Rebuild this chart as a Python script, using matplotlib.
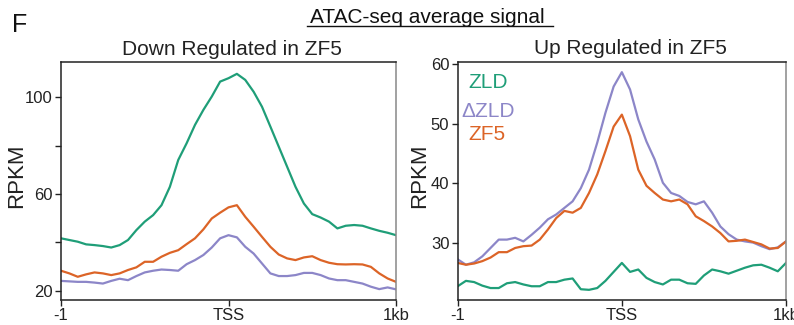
import numpy as np
import matplotlib
matplotlib.use("Agg")
import matplotlib.pyplot as plt
from matplotlib.lines import Line2D

plt.rcParams["font.family"] = ["Liberation Sans", "DejaVu Sans"]

# ========= 数据 =========
# 位置：-1kb .. TSS .. +1kb，步长 50bp
pos = np.round(np.arange(-1.0, 1.0001, 0.05), 2)

# Down Regulated in ZF5
down_zld = [41.7, 41.0, 40.3, 39.2, 38.9, 38.5, 37.9, 38.9, 41.0, 45.1,
            48.6, 51.3, 55.4, 63.0, 74.1, 81.0, 88.6, 94.8, 100.3, 106.5,
            107.9, 109.7, 107.2, 102.3, 96.1, 87.9, 79.6, 71.3, 63.0, 56.1,
            51.7, 50.3, 48.6, 45.8, 46.9, 47.2, 46.9, 45.8, 44.8, 44.0, 43.0]
down_dzld = [24.1, 23.9, 23.7, 23.7, 23.4, 23.0, 24.1, 25.0, 24.4, 26.1,
             27.6, 28.3, 28.8, 28.6, 28.3, 31.0, 32.7, 34.8, 37.9, 41.7,
             43.0, 42.1, 38.2, 35.4, 31.3, 27.2, 26.1, 26.1, 26.5, 27.4,
             27.4, 26.5, 25.1, 24.4, 24.4, 23.7, 23.0, 21.7, 20.7, 21.4, 20.6]
down_zf5 = [28.3, 27.2, 25.8, 26.8, 27.6, 27.2, 26.5, 27.2, 28.6, 29.7,
            32.0, 32.0, 34.1, 35.7, 36.8, 39.3, 41.7, 45.4, 49.9, 52.3,
            54.5, 55.4, 50.6, 46.5, 42.3, 38.2, 35.0, 33.4, 32.7, 33.8,
            34.3, 32.7, 31.6, 31.0, 30.9, 31.0, 30.9, 29.9, 27.2, 25.1, 23.7]

# Up Regulated in ZF5
up_zld = [22.8, 23.7, 23.5, 22.9, 22.5, 22.5, 23.3, 23.5, 23.1, 22.8,
          22.8, 23.5, 23.5, 23.9, 24.1, 22.3, 22.2, 22.5, 23.7, 25.2,
          26.7, 25.2, 25.6, 24.2, 23.5, 23.1, 23.9, 23.9, 23.3, 23.2,
          24.6, 25.6, 25.3, 24.9, 25.4, 25.9, 26.3, 26.4, 25.9, 25.3, 26.7]
up_dzld = [27.3, 26.4, 26.8, 27.8, 29.2, 30.6, 30.6, 30.9, 30.3, 31.4,
           32.6, 34.0, 34.8, 35.9, 37.0, 39.2, 42.3, 46.8, 51.8, 56.2,
           58.6, 55.7, 50.7, 47.0, 44.0, 40.1, 38.4, 37.9, 36.9, 36.5,
           37.0, 35.1, 32.8, 31.5, 30.6, 30.3, 30.1, 29.5, 29.0, 29.3, 30.3]
up_zf5 = [26.7, 26.4, 26.6, 27.0, 27.6, 28.5, 28.5, 29.2, 29.5, 29.6,
          30.6, 32.3, 34.2, 35.4, 35.1, 35.9, 38.4, 41.5, 45.4, 49.5,
          51.5, 47.9, 42.3, 39.6, 38.4, 37.3, 37.0, 37.3, 36.5, 34.5,
          33.7, 32.8, 31.7, 30.3, 30.4, 30.6, 30.2, 29.8, 29.1, 29.2, 30.3]

series_names = ["ZLD", "\u0394ZLD", "ZF5"]
colors = ["#1f9e78", "#8c86c8", "#dc6427"]

x_ticks = [-1, 0, 1]
x_ticklabels = ["-1", "TSS", "1kb"]

# ========= 画图 =========
W, H = 794, 325
fig = plt.figure(figsize=(W / 100, H / 100), dpi=100)


def fx(px):
    return px / W


def fy(py):
    return 1 - py / H


ax1 = fig.add_axes([fx(61), fy(300), fx(335), 238 / H])
ax2 = fig.add_axes([fx(457.7), fy(300), fx(328.3), 238 / H])

for ax, data in [(ax1, [down_zld, down_dzld, down_zf5]),
                 (ax2, [up_zld, up_dzld, up_zf5])]:
    for vals, c in zip(data, colors):
        ax.plot(pos, vals, color=c, lw=1.6, solid_joinstyle="round")
    ax.set_xlim(-1, 1)
    ax.set_xticks(x_ticks)
    ax.set_xticklabels(x_ticklabels)
    ax.tick_params(direction="out", length=4, width=1, labelsize=12,
                   pad=2, colors="#222222")
    for s in ["left", "bottom", "top"]:
        ax.spines[s].set_color("#222222")
        ax.spines[s].set_linewidth(1.1)
    ax.spines["right"].set_color("#888888")
    ax.spines["right"].set_linewidth(1.1)

ax1.set_ylim(16.2, 114.6)
ax1.set_yticks([20, 40, 60, 80, 100])
ax1.set_yticklabels(["20", "", "60", "", "100"])

ax2.set_ylim(20.5, 60.3)
ax2.set_yticks([30, 40, 50, 60])
ax2.set_yticklabels(["30", "40", "50", "60"])

# y 轴标签
ax1.text((16.7 - 61) / 335, 0.521, "RPKM", transform=ax1.transAxes,
         rotation=90, ha="center", va="center", fontsize=16, color="#222222")
ax2.text((420 - 457.7) / 328.3, 0.521, "RPKM", transform=ax2.transAxes,
         rotation=90, ha="center", va="center", fontsize=16, color="#222222")

# 图例文字
legend_pos = [(468, 88), (461.7, 116.7), (468.5, 140)]
for name, c, (lx, ly) in zip(series_names, colors, legend_pos):
    fig.text(fx(lx), fy(ly), name, color=c, fontsize=15,
             ha="left", va="baseline")

# 标题
fig.text(fx(231.5), fy(55), "Down Regulated in ZF5", fontsize=15,
         ha="center", va="baseline", color="#222222")
fig.text(fx(630.5), fy(54.5), "Up Regulated in ZF5", fontsize=15,
         ha="center", va="baseline", color="#222222")

fig.text(fx(427), fy(23), "ATAC-seq average signal", fontsize=15,
         ha="center", va="baseline", color="#111111")
fig.add_artist(Line2D([fx(307), fx(553)], [fy(25.5), fy(25.5)],
                      transform=fig.transFigure, color="#111111", lw=1.0))

fig.text(fx(12), fy(32), "F", fontsize=18, ha="left", va="baseline",
         color="#111111")

fig.savefig("out.png", dpi=100)
